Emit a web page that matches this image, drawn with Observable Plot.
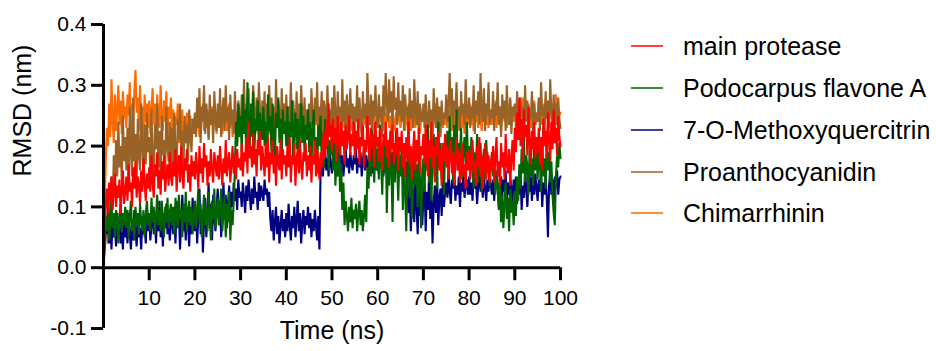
<!DOCTYPE html>
<html>
<head>
<meta charset="utf-8">
<script src="https://cdn.jsdelivr.net/npm/d3@7"></script>
<script src="https://cdn.jsdelivr.net/npm/@observablehq/plot@0.6"></script>
<style>
  html, body { margin: 0; padding: 0; background: #fff; }
  #wrap { position: relative; width: 936px; height: 351px; font-family: "Liberation Sans", Arial, sans-serif; color: #000; }
  #legend { position: absolute; left: 631px; top: 0; }
  .item { position: absolute; left: 0; white-space: nowrap; font-size: 25px; line-height: 1; }
  .swatch { position: absolute; left: 0; top: -1px; width: 32px; height: 2px; }
  .lab { position: absolute; left: 52px; transform: translateY(-50%); }
</style>
</head>
<body>
<div id="wrap"></div>
<script>
const seriesNames = ["main protease", "Podocarpus flavone A", "7-O-Methoxyquercitrin", "Proanthocyanidin", "Chimarrhinin"];
const seriesColors = ["#ff0000", "#006400", "#000080", "#996328", "#ff6a00"];
const xTicks = [10, 20, 30, 40, 50, 60, 70, 80, 90, 100];
const yTicks = [-0.1, 0, 0.1, 0.2, 0.3, 0.4];
const timeNs = d3.range(0, 100.001, 0.25);

const mainProtease = [
0.000,0.060,0.105,0.130,0.090,0.140,0.110,0.150,0.095,0.125,0.155,0.100,0.135,0.115,0.145,0.090,0.130,0.160,0.105,0.125,
0.150,0.110,0.170,0.125,0.140,0.100,0.165,0.130,0.175,0.115,0.150,0.135,0.105,0.160,0.125,0.180,0.140,0.110,0.155,0.130,
0.165,0.125,0.185,0.140,0.115,0.170,0.150,0.190,0.130,0.160,0.120,0.175,0.145,0.185,0.125,0.155,0.170,0.135,0.190,0.150,
0.135,0.175,0.150,0.195,0.125,0.165,0.185,0.140,0.200,0.155,0.130,0.180,0.160,0.195,0.140,0.170,0.125,0.185,0.150,0.175,
0.145,0.190,0.160,0.130,0.200,0.155,0.180,0.140,0.205,0.165,0.185,0.135,0.175,0.150,0.195,0.160,0.140,0.190,0.170,0.150,
0.185,0.145,0.200,0.165,0.135,0.180,0.155,0.210,0.150,0.175,0.190,0.140,0.170,0.200,0.155,0.185,0.145,0.195,0.165,0.180,
0.160,0.205,0.150,0.190,0.175,0.215,0.155,0.240,0.180,0.200,0.165,0.220,0.170,0.195,0.150,0.210,0.185,0.225,0.160,0.200,
0.175,0.150,0.205,0.165,0.215,0.140,0.190,0.170,0.210,0.155,0.185,0.135,0.200,0.175,0.160,0.210,0.145,0.195,0.170,0.185,
0.150,0.200,0.165,0.215,0.140,0.185,0.170,0.205,0.135,0.180,0.195,0.155,0.210,0.165,0.145,0.190,0.175,0.205,0.150,0.185,
0.160,0.200,0.140,0.185,0.170,0.210,0.150,0.195,0.175,0.145,0.190,0.165,0.205,0.225,0.180,0.240,0.200,0.270,0.215,0.235,
0.190,0.245,0.205,0.230,0.175,0.250,0.210,0.185,0.240,0.200,0.225,0.170,0.235,0.195,0.215,0.250,0.185,0.220,0.200,0.240,
0.180,0.225,0.195,0.245,0.170,0.215,0.200,0.235,0.165,0.210,0.190,0.250,0.205,0.175,0.230,0.195,0.220,0.165,0.240,0.200,
0.215,0.175,0.230,0.190,0.160,0.220,0.200,0.240,0.180,0.210,0.165,0.225,0.195,0.235,0.170,0.205,0.185,0.230,0.160,0.215,
0.190,0.225,0.165,0.205,0.150,0.215,0.180,0.240,0.170,0.200,0.145,0.195,0.225,0.160,0.210,0.175,0.230,0.155,0.200,0.185,
0.220,0.170,0.235,0.190,0.150,0.210,0.180,0.240,0.165,0.200,0.140,0.215,0.185,0.225,0.160,0.195,0.135,0.205,0.175,0.220,
0.165,0.200,0.145,0.185,0.210,0.155,0.190,0.135,0.175,0.215,0.160,0.195,0.140,0.180,0.205,0.150,0.170,0.130,0.190,0.160,
0.195,0.145,0.180,0.210,0.155,0.175,0.135,0.200,0.165,0.215,0.150,0.185,0.130,0.170,0.205,0.145,0.190,0.160,0.140,0.180,
0.160,0.200,0.140,0.185,0.215,0.150,0.175,0.135,0.205,0.165,0.190,0.145,0.220,0.170,0.155,0.195,0.135,0.180,0.210,0.160,
0.230,0.190,0.255,0.210,0.280,0.200,0.245,0.175,0.260,0.215,0.235,0.185,0.265,0.205,0.170,0.225,0.195,0.240,0.180,0.215,
0.190,0.230,0.170,0.215,0.160,0.245,0.200,0.225,0.180,0.255,0.210,0.175,0.240,0.195,0.260,0.205,0.230,0.185,0.250,0.215,
0.200];

const podocarpus = [
0.000,0.050,0.085,0.060,0.100,0.045,0.080,0.110,0.065,0.090,0.050,0.095,0.075,0.040,0.085,0.105,0.060,0.090,0.070,0.100,
0.065,0.095,0.050,0.085,0.110,0.060,0.080,0.045,0.100,0.070,0.090,0.055,0.105,0.075,0.060,0.095,0.050,0.085,0.110,0.070,
0.090,0.060,0.115,0.075,0.100,0.055,0.085,0.120,0.070,0.095,0.060,0.110,0.080,0.050,0.100,0.075,0.115,0.065,0.090,0.105,
0.070,0.100,0.055,0.115,0.085,0.065,0.120,0.080,0.095,0.050,0.105,0.075,0.125,0.060,0.090,0.110,0.070,0.100,0.055,0.085,
0.110,0.065,0.095,0.130,0.075,0.105,0.050,0.090,0.120,0.070,0.100,0.060,0.125,0.085,0.045,0.110,0.080,0.130,0.065,0.095,
0.115,0.070,0.100,0.130,0.060,0.090,0.120,0.050,0.105,0.075,0.125,0.045,0.095,0.070,0.110,0.160,0.240,0.200,0.270,0.215,
0.250,0.190,0.285,0.220,0.260,0.175,0.305,0.235,0.200,0.270,0.215,0.290,0.185,0.245,0.225,0.275,0.195,0.255,0.230,0.210,
0.265,0.200,0.240,0.180,0.285,0.225,0.250,0.190,0.270,0.215,0.175,0.255,0.230,0.280,0.205,0.245,0.185,0.260,0.220,0.240,
0.200,0.265,0.180,0.240,0.215,0.275,0.170,0.230,0.255,0.195,0.245,0.165,0.225,0.270,0.205,0.250,0.185,0.235,0.210,0.260,
0.190,0.240,0.170,0.225,0.260,0.185,0.215,0.155,0.235,0.200,0.250,0.175,0.220,0.165,0.245,0.195,0.230,0.160,0.210,0.185,
0.225,0.160,0.205,0.135,0.190,0.150,0.215,0.125,0.170,0.095,0.140,0.070,0.110,0.085,0.060,0.100,0.075,0.115,0.065,0.095,
0.080,0.105,0.060,0.090,0.110,0.070,0.095,0.060,0.085,0.120,0.075,0.165,0.130,0.200,0.150,0.225,0.175,0.140,0.210,0.160,
0.195,0.145,0.235,0.170,0.120,0.205,0.155,0.220,0.090,0.180,0.135,0.210,0.160,0.075,0.190,0.140,0.225,0.165,0.110,0.185,
0.150,0.205,0.095,0.175,0.130,0.060,0.160,0.195,0.115,0.180,0.080,0.150,0.210,0.135,0.170,0.100,0.190,0.145,0.065,0.160,
0.180,0.125,0.210,0.160,0.235,0.140,0.195,0.110,0.175,0.220,0.150,0.190,0.130,0.240,0.165,0.205,0.145,0.185,0.120,0.200,
0.170,0.225,0.150,0.250,0.190,0.215,0.140,0.235,0.175,0.260,0.160,0.205,0.185,0.230,0.145,0.195,0.215,0.165,0.240,0.180,
0.200,0.150,0.215,0.170,0.130,0.190,0.160,0.220,0.140,0.180,0.205,0.125,0.175,0.195,0.145,0.210,0.165,0.185,0.135,0.170,
0.190,0.150,0.175,0.120,0.160,0.135,0.095,0.145,0.075,0.120,0.065,0.105,0.140,0.080,0.115,0.060,0.130,0.090,0.110,0.070,
0.125,0.085,0.150,0.110,0.170,0.130,0.195,0.155,0.215,0.140,0.185,0.165,0.120,0.200,0.150,0.180,0.135,0.210,0.160,0.190,
0.145,0.195,0.170,0.125,0.205,0.150,0.180,0.130,0.215,0.160,0.190,0.140,0.175,0.120,0.090,0.070,0.150,0.185,0.165,0.205,
0.180];

const methoxyquercitrin = [
0.000,0.040,0.080,0.055,0.095,0.040,0.070,0.030,0.085,0.050,0.065,0.035,0.090,0.055,0.075,0.040,0.060,0.030,0.080,0.050,
0.070,0.040,0.090,0.055,0.030,0.075,0.045,0.095,0.060,0.035,0.080,0.050,0.065,0.030,0.085,0.055,0.070,0.040,0.100,0.060,
0.085,0.045,0.070,0.100,0.055,0.080,0.040,0.095,0.060,0.110,0.050,0.075,0.035,0.090,0.065,0.105,0.055,0.080,0.045,0.070,
0.095,0.055,0.080,0.040,0.110,0.065,0.090,0.030,0.075,0.120,0.060,0.085,0.045,0.100,0.070,0.035,0.090,0.055,0.115,0.075,
0.060,0.100,0.040,0.085,0.130,0.055,0.095,0.025,0.075,0.115,0.050,0.090,0.140,0.065,0.105,0.045,0.120,0.080,0.060,0.100,
0.130,0.070,0.110,0.050,0.095,0.140,0.085,0.120,0.065,0.105,0.135,0.090,0.125,0.100,0.140,0.110,0.130,0.095,0.145,0.115,
0.125,0.100,0.140,0.115,0.090,0.135,0.110,0.145,0.120,0.095,0.130,0.105,0.150,0.115,0.125,0.095,0.140,0.110,0.135,0.120,
0.110,0.145,0.120,0.130,0.100,0.125,0.080,0.060,0.095,0.045,0.075,0.100,0.055,0.085,0.040,0.070,0.095,0.060,0.080,0.050,
0.090,0.060,0.105,0.070,0.045,0.085,0.065,0.100,0.050,0.080,0.110,0.060,0.090,0.040,0.075,0.095,0.055,0.085,0.070,0.100,
0.065,0.090,0.050,0.080,0.060,0.095,0.070,0.045,0.085,0.030,0.160,0.185,0.150,0.175,0.195,0.160,0.180,0.150,0.190,0.170,
0.155,0.185,0.165,0.195,0.150,0.180,0.170,0.200,0.160,0.185,0.150,0.175,0.195,0.165,0.180,0.155,0.190,0.170,0.160,0.185,
0.170,0.195,0.155,0.180,0.165,0.190,0.150,0.175,0.195,0.160,0.185,0.170,0.150,0.190,0.165,0.180,0.155,0.195,0.170,0.160,
0.180,0.155,0.190,0.165,0.175,0.150,0.185,0.160,0.195,0.170,0.155,0.180,0.165,0.190,0.150,0.175,0.160,0.185,0.170,0.155,
0.180,0.160,0.190,0.165,0.150,0.175,0.120,0.090,0.140,0.060,0.110,0.130,0.075,0.150,0.100,0.055,0.125,0.085,0.145,0.070,
0.115,0.140,0.060,0.125,0.095,0.155,0.080,0.120,0.040,0.105,0.135,0.090,0.150,0.070,0.115,0.130,0.085,0.145,0.100,0.125,
0.140,0.115,0.155,0.125,0.105,0.145,0.130,0.160,0.110,0.135,0.120,0.150,0.100,0.140,0.125,0.155,0.115,0.135,0.145,0.120,
0.150,0.120,0.140,0.110,0.155,0.130,0.145,0.105,0.135,0.160,0.125,0.140,0.115,0.150,0.130,0.110,0.145,0.125,0.155,0.135,
0.120,0.145,0.110,0.155,0.130,0.140,0.100,0.135,0.150,0.115,0.145,0.125,0.160,0.105,0.140,0.120,0.150,0.130,0.110,0.145,
0.125,0.150,0.105,0.140,0.120,0.155,0.095,0.135,0.115,0.160,0.130,0.100,0.145,0.125,0.150,0.110,0.140,0.120,0.155,0.130,
0.110,0.145,0.125,0.155,0.100,0.140,0.120,0.150,0.115,0.050,0.135,0.160,0.120,0.145,0.105,0.150,0.130,0.160,0.120,0.145,
0.150];

const proanthocyanidin = [
0.000,0.030,0.050,0.085,0.040,0.120,0.070,0.150,0.100,0.185,0.130,0.210,0.150,0.240,0.165,0.200,0.140,0.250,0.175,0.215,
0.160,0.230,0.140,0.265,0.190,0.150,0.280,0.175,0.220,0.135,0.245,0.185,0.160,0.270,0.200,0.145,0.235,0.170,0.255,0.190,
0.215,0.150,0.260,0.180,0.140,0.235,0.195,0.270,0.165,0.225,0.145,0.250,0.185,0.210,0.155,0.265,0.200,0.175,0.240,0.160,
0.230,0.170,0.255,0.190,0.150,0.245,0.210,0.270,0.180,0.225,0.160,0.250,0.205,0.235,0.175,0.260,0.215,0.190,0.245,0.220,
0.255,0.215,0.280,0.230,0.295,0.205,0.265,0.240,0.300,0.220,0.270,0.245,0.210,0.285,0.235,0.260,0.205,0.290,0.245,0.225,
0.270,0.230,0.295,0.215,0.255,0.280,0.225,0.300,0.240,0.265,0.210,0.285,0.235,0.260,0.220,0.290,0.245,0.205,0.275,0.250,
0.230,0.285,0.250,0.310,0.225,0.270,0.245,0.295,0.215,0.265,0.240,0.300,0.255,0.225,0.280,0.235,0.305,0.260,0.220,0.275,
0.245,0.290,0.225,0.270,0.210,0.300,0.250,0.280,0.230,0.265,0.215,0.310,0.240,0.275,0.255,0.225,0.295,0.245,0.270,0.235,
0.285,0.220,0.265,0.240,0.305,0.230,0.275,0.250,0.215,0.290,0.245,0.270,0.225,0.300,0.255,0.235,0.280,0.210,0.260,0.245,
0.270,0.230,0.295,0.250,0.215,0.280,0.240,0.305,0.225,0.265,0.245,0.290,0.220,0.275,0.255,0.235,0.300,0.240,0.260,0.225,
0.280,0.235,0.300,0.250,0.215,0.290,0.245,0.265,0.225,0.310,0.240,0.275,0.210,0.285,0.255,0.230,0.295,0.245,0.270,0.220,
0.265,0.240,0.300,0.225,0.280,0.250,0.215,0.290,0.245,0.270,0.230,0.320,0.255,0.235,0.285,0.220,0.275,0.245,0.300,0.250,
0.230,0.285,0.245,0.265,0.215,0.300,0.250,0.320,0.270,0.240,0.310,0.255,0.290,0.230,0.315,0.260,0.280,0.235,0.305,0.250,
0.275,0.240,0.300,0.225,0.285,0.250,0.265,0.215,0.295,0.245,0.275,0.230,0.310,0.255,0.235,0.290,0.220,0.270,0.250,0.240,
0.270,0.230,0.285,0.245,0.215,0.275,0.240,0.260,0.220,0.295,0.250,0.230,0.280,0.240,0.265,0.215,0.275,0.235,0.255,0.245,
0.285,0.240,0.270,0.320,0.250,0.295,0.230,0.275,0.255,0.305,0.240,0.265,0.225,0.290,0.250,0.270,0.235,0.310,0.255,0.245,
0.280,0.230,0.265,0.245,0.300,0.220,0.275,0.250,0.290,0.235,0.320,0.260,0.240,0.295,0.225,0.270,0.250,0.305,0.235,0.260,
0.245,0.290,0.225,0.270,0.250,0.305,0.235,0.265,0.215,0.285,0.245,0.275,0.225,0.300,0.255,0.235,0.280,0.220,0.265,0.250,
0.270,0.230,0.290,0.245,0.220,0.280,0.250,0.265,0.215,0.300,0.240,0.275,0.225,0.260,0.245,0.290,0.220,0.270,0.235,0.255,
0.240,0.280,0.225,0.305,0.250,0.265,0.215,0.290,0.245,0.275,0.230,0.310,0.255,0.240,0.285,0.225,0.270,0.235,0.280,0.245,
0.230];

const chimarrhinin = [
0.000,0.100,0.180,0.230,0.200,0.270,0.215,0.310,0.240,0.205,0.285,0.225,0.260,0.300,0.235,0.275,0.220,0.290,0.245,0.265,
0.230,0.285,0.250,0.305,0.215,0.270,0.240,0.290,0.325,0.255,0.280,0.225,0.300,0.245,0.265,0.210,0.285,0.240,0.270,0.230,
0.275,0.220,0.260,0.295,0.235,0.270,0.210,0.285,0.245,0.230,0.300,0.250,0.225,0.275,0.240,0.290,0.215,0.265,0.245,0.280,
0.230,0.260,0.215,0.250,0.235,0.270,0.205,0.245,0.225,0.260,0.210,0.240,0.220,0.255,0.200,0.235,0.250,0.215,0.245,0.230,
0.250,0.225,0.265,0.235,0.215,0.255,0.240,0.270,0.225,0.250,0.230,0.260,0.215,0.245,0.235,0.265,0.225,0.250,0.240,0.220,
0.255,0.230,0.245,0.265,0.220,0.250,0.235,0.260,0.225,0.245,0.270,0.230,0.250,0.215,0.240,0.260,0.225,0.255,0.235,0.245,
0.230,0.255,0.240,0.265,0.220,0.250,0.235,0.260,0.225,0.245,0.230,0.270,0.240,0.220,0.255,0.235,0.260,0.225,0.250,0.240,
0.260,0.225,0.245,0.235,0.265,0.220,0.250,0.240,0.255,0.215,0.245,0.265,0.230,0.250,0.225,0.260,0.240,0.220,0.255,0.235,
0.245,0.265,0.225,0.250,0.235,0.270,0.220,0.255,0.240,0.230,0.260,0.225,0.250,0.240,0.265,0.220,0.245,0.235,0.255,0.230,
0.250,0.225,0.260,0.240,0.215,0.255,0.235,0.265,0.225,0.245,0.240,0.270,0.230,0.250,0.220,0.260,0.235,0.245,0.225,0.255,
0.235,0.260,0.220,0.250,0.240,0.265,0.225,0.245,0.200,0.235,0.255,0.230,0.265,0.220,0.245,0.235,0.260,0.225,0.250,0.240,
0.225,0.255,0.240,0.270,0.230,0.250,0.220,0.260,0.235,0.245,0.265,0.225,0.250,0.240,0.270,0.230,0.255,0.220,0.245,0.235,
0.260,0.230,0.250,0.240,0.265,0.225,0.255,0.235,0.245,0.270,0.230,0.250,0.220,0.260,0.240,0.225,0.255,0.235,0.265,0.245,
0.230,0.255,0.240,0.265,0.225,0.250,0.235,0.270,0.245,0.225,0.260,0.240,0.250,0.230,0.265,0.235,0.255,0.220,0.245,0.250,
0.240,0.265,0.225,0.250,0.235,0.260,0.230,0.255,0.220,0.245,0.270,0.235,0.250,0.225,0.260,0.240,0.255,0.230,0.245,0.235,
0.255,0.230,0.265,0.240,0.250,0.225,0.270,0.245,0.235,0.260,0.225,0.250,0.240,0.265,0.230,0.255,0.220,0.245,0.260,0.235,
0.250,0.270,0.235,0.255,0.225,0.260,0.240,0.250,0.230,0.265,0.245,0.225,0.255,0.240,0.270,0.235,0.250,0.230,0.260,0.245,
0.235,0.260,0.245,0.275,0.230,0.255,0.240,0.265,0.225,0.250,0.270,0.240,0.255,0.230,0.260,0.245,0.275,0.235,0.250,0.240,
0.265,0.240,0.275,0.250,0.230,0.260,0.245,0.280,0.235,0.255,0.265,0.240,0.270,0.250,0.230,0.260,0.245,0.275,0.235,0.255,
0.250,0.275,0.240,0.260,0.235,0.270,0.250,0.280,0.245,0.260,0.235,0.275,0.255,0.240,0.265,0.250,0.285,0.240,0.260,0.250,
0.255];

// ---- build ----
const seriesValues = [mainProtease, podocarpus, methoxyquercitrin, proanthocyanidin, chimarrhinin];
const rows = seriesNames.map((name, k) => timeNs.map((t, i) => ({name, t, v: seriesValues[k][i]})));
// drawing order: last series at the back, "main protease" in front
const drawOrder = [4, 3, 2, 1, 0];

const axisColor = "#000";
const font = '"Liberation Sans", Arial, sans-serif';

const chart = Plot.plot({
  width: 936,
  height: 351,
  marginLeft: 103,
  marginRight: 376,
  marginTop: 24,
  marginBottom: 23,
  style: {fontFamily: font, color: "#000", background: "#fff", overflow: "visible"},
  x: {domain: [0, 100], axis: null},
  y: {domain: [-0.1, 0.4], axis: null},
  marks: [
    ...drawOrder.map(k => Plot.line(rows[k], {x: "t", y: "v", stroke: seriesColors[k], strokeWidth: 2.1, strokeLinejoin: "miter"})),
    // y axis
    Plot.ruleX([0], {y1: yTicks[0], y2: yTicks[yTicks.length - 1], stroke: axisColor, strokeWidth: 3}),
    Plot.axisY(yTicks, {tickSize: 12, tickPadding: 5, fontSize: 21, strokeWidth: 3, tickFormat: d => d.toFixed(1), label: null, fill: axisColor, stroke: axisColor}),
    // x axis drawn along y = 0
    Plot.ruleY([0], {x1: 0, x2: 100, stroke: axisColor, strokeWidth: 3}),
    Plot.ruleX(xTicks, {x: d => d, y1: 0, y2: 0, insetBottom: -13, stroke: axisColor, strokeWidth: 3}),
    Plot.text(xTicks, {x: d => d, y: 0, dy: 31, text: d => String(d), fontSize: 21, fill: axisColor}),
    // axis titles
    Plot.text(["Time (ns)"], {frameAnchor: "bottom", lineAnchor: "middle", dy: 2, text: d => d, fontSize: 25, fill: axisColor}),
    Plot.text(["RMSD (nm)"], {frameAnchor: "left", dx: -81, rotate: -90, text: d => d, fontSize: 25, fill: axisColor})
  ]
});

const wrap = document.getElementById("wrap");
wrap.appendChild(chart);

// legend (HTML, to the right of the plot)
const legend = document.createElement("div");
legend.id = "legend";
const rowY = [46, 88, 130, 172, 213];
seriesNames.forEach((name, k) => {
  const item = document.createElement("div");
  item.className = "item";
  item.style.top = rowY[k] + "px";
  const sw = document.createElement("div");
  sw.className = "swatch";
  sw.style.background = seriesColors[k];
  sw.style.opacity = 0.75;
  const lab = document.createElement("div");
  lab.className = "lab";
  lab.textContent = name;
  item.appendChild(sw);
  item.appendChild(lab);
  legend.appendChild(item);
});
wrap.appendChild(legend);
</script>
</body>
</html>
